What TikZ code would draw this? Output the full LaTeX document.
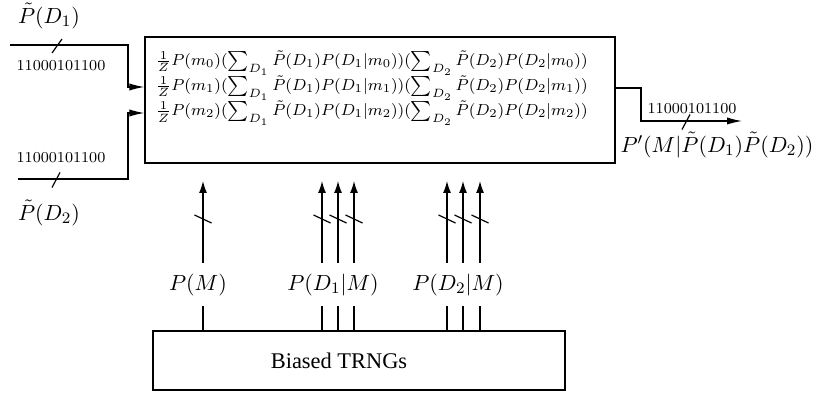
\documentclass[tikz,border=0pt]{standalone}
\usepackage{fontspec}
\newfontfamily\timesfont{Liberation Serif}
\usetikzlibrary{arrows.meta}
\begin{document}
\begin{tikzpicture}[x=0.5pt,y=-0.5pt,line width=0.6pt,
  box/.style={draw,rectangle,inner sep=0pt},
  lab/.style={inner sep=0pt,font=\fontsize{11}{13}\selectfont},
  bits/.style={inner sep=0pt,font=\fontsize{7.6}{9}\selectfont},
  harr/.style={-{Latex[length=7.5pt,width=3.6pt]}},
  varr/.style={-{Latex[length=6pt,width=4pt]}}]
\useasboundingbox (0,0) rectangle (817,394);
% main box
\node[box,minimum width=235pt,minimum height=63pt] (main) at (380,100) {};
\node[anchor=west,inner sep=0pt,align=left,font=\fontsize{8.3}{12.5}\selectfont] (formula) at (155,88)
{$\frac{1}{Z}P(m_0)(\sum_{D_1}\tilde{P}(D_1)P(D_1|m_0))(\sum_{D_2}\tilde{P}(D_2)P(D_2|m_0))$\\
 $\frac{1}{Z}P(m_1)(\sum_{D_1}\tilde{P}(D_1)P(D_1|m_1))(\sum_{D_2}\tilde{P}(D_2)P(D_2|m_1))$\\
 $\frac{1}{Z}P(m_2)(\sum_{D_1}\tilde{P}(D_1)P(D_1|m_2))(\sum_{D_2}\tilde{P}(D_2)P(D_2|m_2))$};
% left inputs
\coordinate (in1) at (10,45);
\coordinate (k1) at (128,87);
\draw[harr] (in1) -| (k1) -- (k1 -| main.west);
\coordinate (in2) at (18,179);
\coordinate (k2) at (128,113);
\draw[harr] (in2) -| (k2) -- (k2 -| main.west);
\draw ([shift={(-5,7)}]57,46) -- ++(10,-14);
\draw ([shift={(-4,7.5)}]56,180) -- ++(8,-15);
\node[lab] (pd1t) at (49,16) {$\tilde{P}(D_1)$};
\node[bits] (b1) at (61,66) {11000101100};
\node[bits] (b2) at (61,158) {11000101100};
\node[lab] (pd2t) at (49,213) {$\tilde{P}(D_2)$};
% output
\coordinate (o1) at (641,121);
\coordinate (oend) at (742,121);
\draw[harr] (main.east |- 0,88) -| (o1) -- (oend);
\draw ([shift={(-4,7.5)}]686,122) -- ++(8,-15);
\node[bits] (b3) at (692,109) {11000101100};
\node[lab] (pout) at (717,145) {$P'(M|\tilde{P}(D_1)\tilde{P}(D_2))$};
% TRNG box
\node[box,minimum width=206pt,minimum height=29.5pt] (trng) at (359,360.5) {};
\node[inner sep=0pt,font=\timesfont\fontsize{11.2}{13}\selectfont] (trngtext) at (339,361) {Biased TRNGs};
\node[lab] (pm) at (198,285) {$P(M)$};
\node[lab] (pdm1) at (333,285) {$P(D_1|M)$};
\node[lab] (pdm2) at (458,285) {$P(D_2|M)$};
\foreach \x in {203,322,338,354,447,463,480}{
  \draw (trng.north -| \x,0) -- (\x,306);
  \draw[varr] (\x,263) -- (\x,181);
  \draw ([shift={(-8.5,-4)}]\x,219) -- ++(17,8);
}
\end{tikzpicture}
\end{document}
